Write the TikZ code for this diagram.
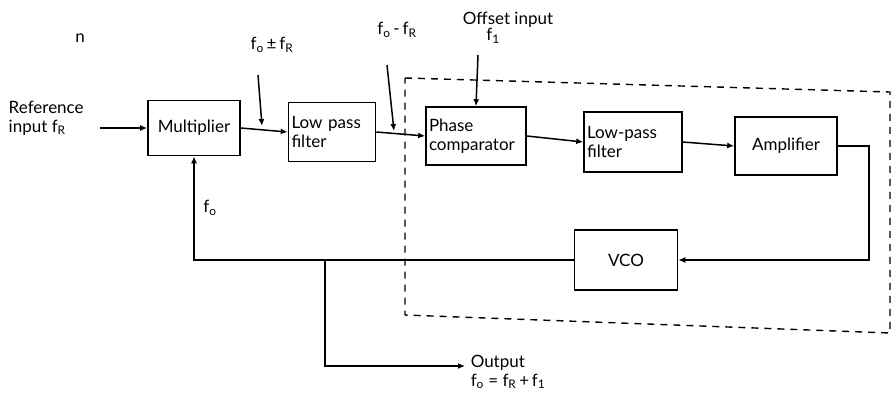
\documentclass[tikz,border=0pt]{standalone}
\usepackage{fontspec}
\setmainfont{Lato}
\usetikzlibrary{arrows.meta}
\begin{document}
\begin{tikzpicture}[x=1pt,y=-1pt,
  line width=1.5pt,
  >={Latex[length=7pt,width=6pt]},
  blk/.style={draw,line width=1.6pt,inner sep=3pt,font=\fontsize{17}{19}\selectfont,align=left},
  lbl/.style={font=\fontsize{17}{19}\selectfont,inner sep=0pt,align=left},
  dsh/.style={dashed,dash pattern=on 7pt off 6pt,line width=1.4pt}]
\useasboundingbox (0,0) rectangle (893,408);
% blocks
\node[blk,minimum width=92pt,minimum height=55pt] (mult) at (194,128) {Multiplier};
\node[blk,text width=81pt,minimum height=59pt] (lpf1) at (332,132) {Low pass\\filter};
\node[blk,text width=94pt,minimum height=58pt] (pc) at (476,136) {Phase\\comparator};
\node[blk,text width=92pt,minimum height=60pt] (lpf2) at (633,142) {Low-pass\\filter};
\node[blk,minimum width=102pt,minimum height=58pt] (amp) at (786,146) {Amplifier};
\node[blk,minimum width=103pt,minimum height=60pt] (vco) at (626,260) {VCO};
% labels
\node[lbl] (n) at (80,38) {n};
\node[lbl,anchor=west] (ref) at (8,118) {Reference\\input f\textsubscript{R}};
\node[lbl] (sum) at (272,45) {f\textsubscript{o}\,±\,f\textsubscript{R}};
\node[lbl] (diff) at (397,30) {f\textsubscript{o}\,-\,f\textsubscript{R}};
\node[lbl,align=center] (off) at (508,28) {Offset input\\[-3pt]\hspace*{-30pt}f\textsubscript{1}};
\node[lbl] (fo) at (210,208) {f\textsubscript{o}};
\node[lbl,anchor=west] (out) at (470,372) {Output\\f\textsubscript{o} = f\textsubscript{R}\,+\,f\textsubscript{1}};
% dashed enclosure
\coordinate (d1) at (405,78);
\coordinate (d2) at (890,92);
\coordinate (d3) at (890,333);
\coordinate (d4) at (405,315);
\draw[dsh] (d1) -- (d2) -- (d3) -- (d4) -- cycle;
% signal path
\coordinate (refend) at (100,128);
\draw[->] (refend) -- (mult.west);
\draw[->] (mult.east) -- (lpf1.west);
\draw[->] (lpf1.east) -- (pc.west);
\draw[->] (pc.east) -- (lpf2.west);
\draw[->] (lpf2.east) -- (amp.west);
\draw[->] (amp.east) -- ++(31,0) coordinate (ac) |- (vco.east);
% feedback
\coordinate (br) at (325,260);
\draw[->] (vco.west) -| (mult.south);
\coordinate (outtip) at (465,366);
\draw[->] (br) |- (outtip);
% small label arrows
\coordinate (s1) at (258,75);
\coordinate (s2) at (262,126);
\draw[->] (s1) -- (s2);
\coordinate (t1) at (387,65);
\coordinate (t2) at (394,131);
\draw[->] (t1) -- (t2);
\coordinate (o1) at (478,55);
\draw[->] (o1) -- (pc.north);
\end{tikzpicture}
\end{document}
